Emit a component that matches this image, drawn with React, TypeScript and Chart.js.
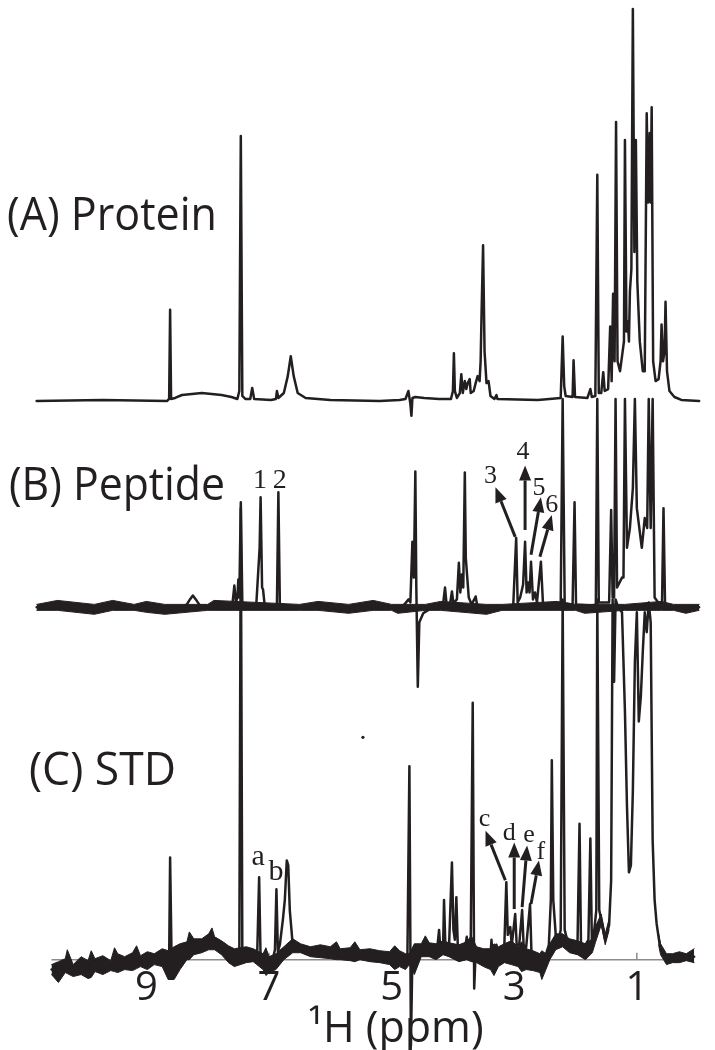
import React, { useEffect, useRef } from "react";
import { Chart, registerables } from "chart.js";

Chart.register(...registerables);

type Pt = [number, number];
type Band = [number, number, number];

// ---------- x axis ----------
const tickValues = [9, 7, 5, 3, 1];
const axisTitle = "¹H (ppm)";
const axisExtent = [10.548, 0.065];

// ---------- panel titles ----------
const panelTitles = ["(A) Protein", "(B) Peptide", "(C) STD"];

// ---------- (A) Protein trace: [ppm, intensity] ----------
const proteinTrace: Pt[] = [
  [10.790, 0], [9.710, 1], [8.661, 0], [8.629, 2], [8.613, 92], [8.597, 2], [8.532, 3], [8.419, 6],
  [8.258, 7], [8.097, 8], [7.935, 7], [7.774, 6], [7.613, 4], [7.516, 2], [7.484, 10], [7.460, 267],
  [7.435, 5], [7.387, 2], [7.306, 2], [7.274, 13], [7.242, 2], [6.968, 1], [6.887, 2], [6.871, 10],
  [6.847, 3], [6.758, 8], [6.694, 25], [6.645, 45], [6.597, 25], [6.532, 8], [6.403, 3], [6.000, 1],
  [5.194, 0], [4.871, 1], [4.774, 2], [4.726, 10], [4.694, -3], [4.677, -15], [4.661, 3], [4.613, 4],
  [4.468, 3], [4.226, 2], [4.032, 2], [4.000, 10], [3.984, 48], [3.968, 10], [3.935, 3], [3.887, 8],
  [3.863, 27], [3.839, 8], [3.806, 20], [3.782, 12], [3.758, 18], [3.726, 22], [3.710, 8], [3.661, 10],
  [3.629, 18], [3.597, 25], [3.565, 20], [3.548, 40], [3.532, 90], [3.508, 157], [3.484, 50], [3.452, 18],
  [3.419, 20], [3.387, 5], [3.323, 2], [3.290, 6], [3.274, 2], [2.613, 1], [2.242, 3], [2.210, 65],
  [2.185, 15], [2.161, 5], [2.048, 4], [2.032, 41], [2.008, 4], [1.806, 3], [1.758, 12], [1.734, 4],
  [1.677, 5], [1.645, 228], [1.621, 8], [1.581, 8], [1.548, 29], [1.524, 10], [1.468, 12], [1.435, 75],
  [1.411, 20], [1.387, 108], [1.363, 40], [1.339, 281], [1.315, 40], [1.274, 30], [1.242, 45], [1.210, 60],
  [1.194, 263], [1.169, 70], [1.145, 80], [1.129, 60], [1.113, 110], [1.089, 133], [1.065, 395], [1.040, 150],
  [1.016, 263], [0.992, 120], [0.952, 60], [0.903, 30], [0.871, 30], [0.839, 290], [0.815, 200], [0.790, 270],
  [0.774, 200], [0.758, 296], [0.734, 40], [0.694, 20], [0.645, 22], [0.613, 40], [0.597, 77], [0.573, 40],
  [0.548, 50], [0.532, 100], [0.508, 30], [0.468, 10], [0.387, 4], [0.274, 1], [-0.016, 0],
];

// ---------- (B) Peptide trace ----------
const peptideTrace: Pt[] = [
  [10.790, 0], [8.419, 0], [8.339, 3], [8.290, 8], [8.242, 12], [8.194, 8], [8.129, 2], [7.645, 0],
  [7.597, 3], [7.565, 22], [7.540, 5], [7.516, 10], [7.500, 28], [7.484, 10], [7.460, 106], [7.435, 4],
  [7.210, 0], [7.153, 60], [7.137, 111], [7.113, 20], [7.097, 18], [7.072, 3], [6.871, 2], [6.847, 116],
  [6.823, 3], [6.484, 0], [4.871, 0], [4.790, 3], [4.726, 8], [4.694, 5], [4.661, 66], [4.637, 30],
  [4.613, 137], [4.597, 20], [4.573, -80], [4.548, -15], [4.484, -6], [4.387, -2], [4.226, 2], [4.161, 3],
  [4.129, 20], [4.105, 4], [4.048, 3], [4.016, 16], [3.992, 4], [3.935, 8], [3.903, 45], [3.879, 15],
  [3.855, 33], [3.831, 20], [3.806, 136], [3.790, 50], [3.766, 30], [3.742, 10], [3.694, 3], [3.629, 11],
  [3.605, 2], [3.258, 0], [3.016, 2], [2.968, 70], [2.944, 5], [2.903, 10], [2.855, 23], [2.823, 66],
  [2.798, 15], [2.774, 25], [2.750, 15], [2.726, 46], [2.694, 8], [2.661, 15], [2.629, 5], [2.565, 46],
  [2.532, 5], [2.452, 1], [2.242, 2], [2.210, 210], [2.177, 4], [2.048, 3], [2.016, 106], [1.992, 3],
  [1.726, 2], [1.669, 3], [1.645, 210], [1.621, 5], [1.452, 5], [1.419, 98], [1.395, 10], [1.371, 10],
  [1.347, 210], [1.323, 20], [1.242, 30], [1.218, 30], [1.194, 210], [1.161, 60], [1.113, 80], [1.065, 120],
  [1.032, 210], [1.000, 100], [0.919, 60], [0.871, 90], [0.831, 80], [0.806, 210], [0.774, 80], [0.742, 210],
  [0.710, 10], [0.629, 3], [0.589, 5], [0.565, 100], [0.540, 3], [0.435, 0], [-0.016, 0],
];

// noise envelope of the peptide baseline: [ppm, upper, lower]
const peptideNoise: Band[] = [
  [10.790, 3, -3], [10.450, 7, -3], [9.850, 3, -7], [9.550, 7, -3], [9.200, 3, -3], [9.000, 6, -5],
  [8.700, 3, -7], [8.000, 3, -3], [7.900, 7, -3], [6.500, 3, -3], [6.200, 6, -3], [5.700, 3, -6],
  [5.300, 7, -3], [5.000, 3, -3], [4.900, 3, -6], [4.450, 3, -3], [4.200, 6, -3], [3.450, 3, -7],
  [3.200, 3, -3], [2.300, 6, -3], [2.000, 3, -3], [1.850, 3, -6], [1.200, 3, -3], [0.600, 6, -3],
  [0.400, 3, -3], [0.200, 3, -6], [-0.016, 3, -3],
];

// ---------- (C) STD trace ----------
const stdTrace: Pt[] = [
  [10.548, -10], [9.710, -6], [8.984, -1], [8.629, 0], [8.613, 103], [8.589, 0], [8.500, 5], [8.258, 15],
  [8.016, 18], [7.774, 12], [7.565, 3], [7.484, 5], [7.460, 455], [7.435, 5], [7.323, 5], [7.194, 2],
  [7.161, 83], [7.137, 0], [7.048, -3], [6.952, -3], [6.903, 10], [6.879, 71], [6.855, 8], [6.823, 15],
  [6.774, 40], [6.742, 60], [6.710, 100], [6.686, 95], [6.661, 50], [6.613, 15], [6.548, 10], [6.403, 8],
  [5.839, 7], [5.194, 5], [4.790, 0], [4.742, 5], [4.710, 195], [4.685, -87], [4.661, 5], [4.581, 10],
  [4.258, 10], [4.226, 30], [4.202, 8], [4.161, 10], [4.145, 60], [4.121, 10], [4.065, 10], [4.016, 98],
  [3.992, 30], [3.968, 20], [3.944, 63], [3.919, 10], [3.806, 10], [3.774, 23], [3.750, 8], [3.710, 10],
  [3.677, 259], [3.653, -29], [3.629, 8], [3.387, 5], [3.371, 20], [3.355, 5], [3.290, 15], [3.274, 5],
  [3.161, 15], [3.129, 78], [3.105, 25], [3.065, 33], [3.040, 15], [2.984, 46], [2.960, 15], [2.919, 15],
  [2.871, 50], [2.847, 15], [2.806, 12], [2.742, 56], [2.718, 5], [2.613, 3], [2.484, 5], [2.435, 15],
  [2.403, 60], [2.387, 201], [2.363, 60], [2.323, 25], [2.274, 20], [2.242, 30], [2.210, 363], [2.177, 30],
  [2.129, 18], [2.048, 15], [1.968, 15], [1.935, 137], [1.911, 15], [1.839, 15], [1.790, 20], [1.758, 122],
  [1.734, 20], [1.694, 30], [1.661, 50], [1.645, 363], [1.613, 50], [1.581, 40], [1.516, 20], [1.452, 35],
  [1.419, 80], [1.395, 363], [1.371, 280], [1.347, 363], [1.306, 355], [1.242, 350], [1.194, 250], [1.161, 155],
  [1.129, 88], [1.097, 95], [1.065, 170], [1.032, 300], [1.000, 350], [0.968, 240], [0.935, 265], [0.903, 310],
  [0.871, 350], [0.839, 330], [0.806, 360], [0.774, 340], [0.742, 120], [0.710, 60], [0.677, 36], [0.629, 16],
  [0.565, 4], [0.484, 0], [0.355, 1], [0.194, 2], [0.065, 3],
];

// noise envelope of the STD baseline: [ppm, upper, lower]
const stdNoiseLeft: Band[] = [
  [10.548, -5, -15], [10.435, -2, -23], [10.323, 1, -13], [10.290, 10, -14], [10.194, -5, -17], [10.065, 3, -15],
  [9.952, -1, -19], [9.900, 9, -18], [9.839, 1, -12], [9.710, 4, -15], [9.581, -1, -11], [9.520, 12, -12],
  [9.468, 6, -13], [9.355, 3, -10], [9.226, 7, -11], [9.160, 14, -9], [9.097, 4, -7], [8.984, 8, -10],
  [8.871, 6, -5], [8.742, 11, -7], [8.645, 9, -20], [8.548, 13, -20], [8.452, 16, -10], [8.339, 18, 0],
  [8.300, 28, 0], [8.226, 21, 5], [8.097, 21, 7], [7.984, 26, 10], [7.930, 32, 10], [7.887, 23, 10],
  [7.774, 19, 5], [7.661, 14, -3], [7.565, 11, -7], [7.371, 13, -3], [7.258, 11, -2], [7.097, 6, -10],
  [7.050, 12, -16], [7.000, 3, -13], [6.887, 6, -10], [6.758, 13, 0], [6.613, 21, 7], [6.484, 16, 7],
  [6.323, 13, 3], [6.161, 15, 2], [6.000, 13, 1], [5.900, 18, 0], [5.839, 11, 0], [5.677, 12, -1],
  [5.600, 18, -2], [5.516, 10, 0], [5.355, 11, -2], [5.194, 9, -3], [5.032, 8, -5], [4.950, 14, -10],
  [4.871, 9, -7], [4.774, 6, -10], [4.710, 6, -5], [4.629, 16, -15], [4.516, 16, 3], [4.450, 24, 3],
  [4.387, 17, 3], [4.274, 16, 0], [4.161, 19, 5], [4.065, 17, 3], [3.903, 15, -2], [3.774, 18, 0],
  [3.700, 24, -2], [3.613, 13, -3], [3.500, 11, -7], [3.387, 11, -10], [3.330, 16, -16], [3.258, 13, -7],
  [3.161, 16, -3], [3.048, 19, -5], [2.936, 13, -7], [2.880, 18, -12], [2.806, 11, -10], [2.694, 9, -11],
  [2.581, 6, -13], [2.550, 9, -20], [2.484, 6, -10], [2.419, 16, 0], [2.323, 26, 10], [2.210, 26, 13],
  [2.097, 21, 7], [1.968, 19, 5], [1.839, 16, 0], [1.726, 21, 7], [1.677, 33, 17], [1.581, 46, 35],
  [1.516, 26, 15], [1.452, 41, 30],
];
const stdNoiseRight: Band[] = [
  [0.645, 26, 15], [0.613, 16, 5], [0.516, 6, -5], [0.419, 6, -3], [0.306, 8, -3], [0.194, 6, -1], [0.065, 11, -3],
];

// single speck visible in the STD panel
const stdSpeck: Pt = [5.468, 224];

// ---------- peak annotations ----------
const peptidePeakLabels = ["1", "2", "3", "4", "5", "6"];
const stdPeakLabels = ["a", "b", "c", "d", "e", "f"];

// ---------- layout / style (not data) ----------
const INK = "#231f20";
const AXIS_GRAY = "#8c8c8c";
const SANS = '"Open Sans", "Noto Sans", sans-serif';
const SERIF = '"Liberation Serif", "DejaVu Serif", serif';
const OFFSET = { protein: 563, peptide: 355, std: 0 };
const X_MIN = -0.2097;
const X_MAX = 11.3226;
const Y_MIN = -87;
const Y_MAX = 963;
const TITLE_LAYOUT = [
  { x: 7, y: 230, w: 210 },
  { x: 9, y: 500, w: 216 },
  { x: 29, y: 785, w: 147 },
];
const AXIS_TITLE_POS = { x: 308, y: 1042, size: 43 };
const peptideLabelPos: Pt[] = [[7.145, 120], [6.823, 120], [3.387, 125], [2.855, 150], [2.597, 113], [2.387, 96]];
const peptideLabelSize = [28, 28, 26, 26, 26, 26];
const stdLabelPos: Pt[] = [[7.177, 95], [6.887, 80], [3.484, 135], [3.081, 121], [2.758, 119], [2.565, 101]];
const stdLabelSize = [30, 30, 26, 26, 26, 26];
const peptideArrows: [Pt, Pt][] = [
  [[2.984, 71], [3.306, 121]],
  [[2.823, 78], [2.823, 143]],
  [[2.726, 53], [2.565, 111]],
  [[2.581, 51], [2.387, 93]],
];
const stdArrows: [Pt, Pt][] = [
  [[3.145, 80], [3.468, 130]],
  [[3.000, 51], [3.000, 118]],
  [[2.871, 53], [2.790, 115]],
  [[2.726, 56], [2.597, 100]],
];

const toXY = (trace: Pt[], off: number) => trace.map(([x, y]) => ({ x, y: y + off }));
const bandEdge = (band: Band[], idx: 1 | 2, off: number) => band.map((b) => ({ x: b[0], y: b[idx] + off }));

function drawArrow(ctx: CanvasRenderingContext2D, x1: number, y1: number, x2: number, y2: number) {
  const ang = Math.atan2(y2 - y1, x2 - x1);
  const L = 15;
  const W = 6;
  const bx = x2 - L * Math.cos(ang);
  const by = y2 - L * Math.sin(ang);
  ctx.beginPath();
  ctx.moveTo(x1, y1);
  ctx.lineTo(bx, by);
  ctx.stroke();
  ctx.beginPath();
  ctx.moveTo(x2, y2);
  ctx.lineTo(bx + W * Math.sin(ang), by - W * Math.cos(ang));
  ctx.lineTo(bx - W * Math.sin(ang), by + W * Math.cos(ang));
  ctx.closePath();
  ctx.fill();
}

const decorPlugin = {
  id: "nmrDecor",
  beforeDatasetsDraw(chart: any) {
    const { ctx } = chart;
    const xs = chart.scales.x;
    const ys = chart.scales.y;
    ctx.save();
    const y0 = ys.getPixelForValue(0);
    ctx.strokeStyle = AXIS_GRAY;
    ctx.lineWidth = 1.5;
    ctx.beginPath();
    ctx.moveTo(xs.getPixelForValue(axisExtent[0]), y0);
    ctx.lineTo(xs.getPixelForValue(axisExtent[1]), y0);
    ctx.stroke();
    for (const v of tickValues) {
      const px = xs.getPixelForValue(v);
      ctx.beginPath();
      ctx.moveTo(px, y0);
      ctx.lineTo(px, y0 - 7);
      ctx.stroke();
    }
    ctx.fillStyle = INK;
    ctx.textAlign = "left";
    ctx.textBaseline = "alphabetic";
    ctx.font = `46px ${SANS}`;
    panelTitles.forEach((t, i) => {
      const p = TITLE_LAYOUT[i];
      ctx.fillText(t, p.x, p.y, p.w);
    });
    ctx.font = `${AXIS_TITLE_POS.size}px ${SANS}`;
    ctx.fillText(axisTitle, AXIS_TITLE_POS.x, AXIS_TITLE_POS.y);
    ctx.restore();
  },
  afterDatasetsDraw(chart: any) {
    const { ctx } = chart;
    const xs = chart.scales.x;
    const ys = chart.scales.y;
    ctx.save();
    ctx.fillStyle = INK;
    ctx.strokeStyle = INK;
    ctx.lineWidth = 3;
    const px = (p: Pt, off: number) => [xs.getPixelForValue(p[0]), ys.getPixelForValue(p[1] + off)];
    peptideArrows.forEach(([a, b]) => {
      const [x1, y1] = px(a, OFFSET.peptide);
      const [x2, y2] = px(b, OFFSET.peptide);
      drawArrow(ctx, x1, y1, x2, y2);
    });
    stdArrows.forEach(([a, b]) => {
      const [x1, y1] = px(a, OFFSET.std);
      const [x2, y2] = px(b, OFFSET.std);
      drawArrow(ctx, x1, y1, x2, y2);
    });
    ctx.textAlign = "center";
    ctx.textBaseline = "alphabetic";
    peptidePeakLabels.forEach((t, i) => {
      const [x, y] = px(peptideLabelPos[i], OFFSET.peptide);
      ctx.font = `${peptideLabelSize[i]}px ${SERIF}`;
      ctx.fillText(t, x, y);
    });
    stdPeakLabels.forEach((t, i) => {
      const [x, y] = px(stdLabelPos[i], OFFSET.std);
      ctx.font = `${stdLabelSize[i]}px ${SERIF}`;
      ctx.fillText(t, x, y);
    });
    ctx.restore();
  },
};

export default function App() {
  const ref = useRef<HTMLCanvasElement | null>(null);

  useEffect(() => {
    const canvas = ref.current;
    if (!canvas) return;
    const line = (data: { x: number; y: number }[], width: number) => ({
      type: "line",
      data,
      borderColor: INK,
      backgroundColor: INK,
      borderWidth: width,
      pointRadius: 0,
      tension: 0,
      fill: false,
      clip: false,
      borderJoinStyle: "round",
      borderCapStyle: "round",
    });
    const datasets: any[] = [
      { ...line(bandEdge(stdNoiseLeft, 1, OFFSET.std), 1), fill: "+1" },
      line(bandEdge(stdNoiseLeft, 2, OFFSET.std), 1),
      { ...line(bandEdge(stdNoiseRight, 1, OFFSET.std), 1), fill: "+1" },
      line(bandEdge(stdNoiseRight, 2, OFFSET.std), 1),
      { ...line(bandEdge(peptideNoise, 1, OFFSET.peptide), 1), fill: "+1" },
      line(bandEdge(peptideNoise, 2, OFFSET.peptide), 1),
      line(toXY(proteinTrace, OFFSET.protein), 2.5),
      line(toXY(peptideTrace, OFFSET.peptide), 2.5),
      line(toXY(stdTrace, OFFSET.std), 2.5),
      {
        type: "line",
        data: [{ x: stdSpeck[0], y: stdSpeck[1] + OFFSET.std }],
        showLine: false,
        pointRadius: 1.6,
        pointBorderWidth: 0,
        pointBackgroundColor: INK,
        clip: false,
      },
    ];

    const chart = new Chart(canvas, {
      type: "line",
      data: { datasets },
      options: {
        animation: false,
        responsive: true,
        maintainAspectRatio: false,
        events: [],
        layout: { padding: 0 },
        plugins: {
          legend: { display: false },
          tooltip: { enabled: false },
          title: { display: false },
        },
        scales: {
          x: {
            type: "linear",
            reverse: true,
            min: X_MIN,
            max: X_MAX,
            position: "bottom",
            grid: { display: false, drawTicks: false },
            border: { display: false },
            afterBuildTicks: (s: any) => {
              s.ticks = tickValues.map((v) => ({ value: v }));
            },
            afterFit: (s: any) => {
              s.height = 0;
            },
            ticks: {
              autoSkip: false,
              maxRotation: 0,
              minRotation: 0,
              mirror: true,
              padding: 33,
              color: INK,
              font: { family: SANS, size: 40 },
              callback: (v: any) => String(v),
            },
          },
          y: { type: "linear", display: false, min: Y_MIN, max: Y_MAX },
        },
      } as any,
      plugins: [decorPlugin],
    } as any);

    return () => chart.destroy();
  }, []);

  return (
    <div style={{ position: "fixed", left: 0, top: 0, width: 715, height: 1050, background: "#fff" }}>
      <canvas ref={ref} />
    </div>
  );
}
